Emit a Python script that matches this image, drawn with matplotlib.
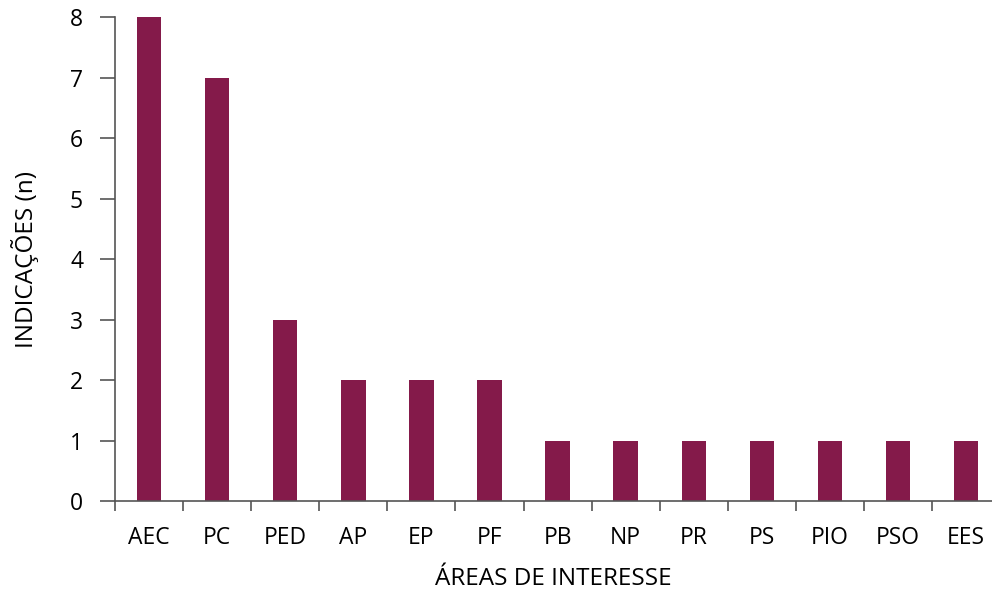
import matplotlib
matplotlib.use("Agg")
import matplotlib.pyplot as plt
import numpy as np

categories = ["AEC", "PC", "PED", "AP", "EP", "PF", "PB", "NP", "PR", "PS", "PIO", "PSO", "EES"]
values = [8, 7, 3, 2, 2, 2, 1, 1, 1, 1, 1, 1, 1]
y_ticks = [0, 1, 2, 3, 4, 5, 6, 7, 8]

plt.rcParams['font.family'] = ['Open Sans', 'DejaVu Sans']

fig = plt.figure(figsize=(9.92, 5.9), dpi=100)
ax = fig.add_axes([115/992, 89/590, 1 - 115/992, (501-17)/590])

x = np.arange(len(categories))
ax.bar(x, values, width=0.36, color="#841A4A", zorder=2)

ax.set_ylim(0, 8)
ax.set_xlim(-0.5, 12.38)
ax.set_yticks(y_ticks)
ax.set_yticklabels([str(v) for v in y_ticks], fontsize=16.5)
ax.tick_params(axis='y', direction='out', length=11, width=1.2, color="#555555", pad=12)

ax.set_xticks(x)
ax.set_xticklabels(categories, fontsize=16.5)
ax.tick_params(axis='x', which='major', length=0, pad=18)
ax.set_xticks(np.arange(-0.5, 12, 1.0), minor=True)
ax.tick_params(axis='x', which='minor', direction='out', length=7, width=1.2, color="#555555")

for s in ['top', 'right']:
    ax.spines[s].set_visible(False)
for s in ['left', 'bottom']:
    ax.spines[s].set_color("#555555")
    ax.spines[s].set_linewidth(1.2)

ax.set_ylabel("INDICAÇÕES (n)", fontsize=17.5, labelpad=22)
ax.set_xlabel("ÁREAS DE INTERESSE", fontsize=17.5, labelpad=12)

fig.savefig("out.png", dpi=100)
